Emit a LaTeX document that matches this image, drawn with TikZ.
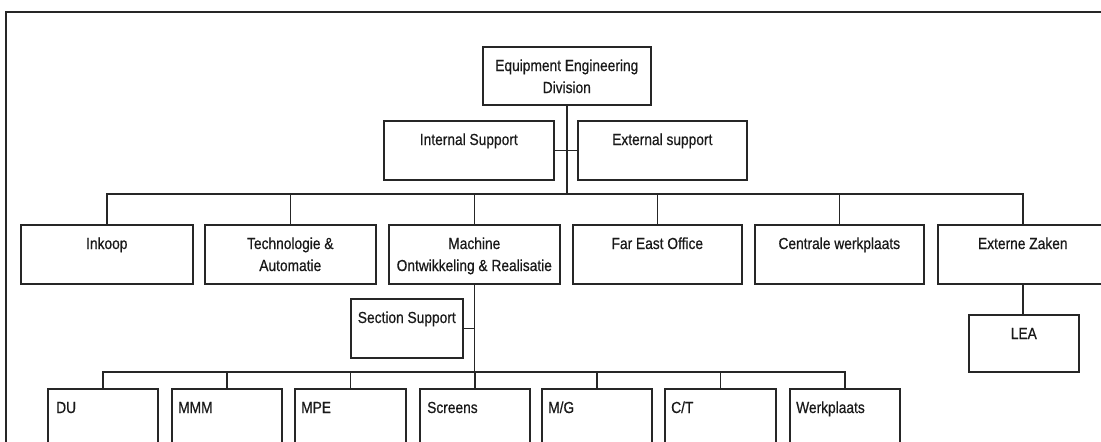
\documentclass[tikz,border=0pt]{standalone}
\usepackage{fontspec}
\setmainfont{Liberation Sans}[FakeStretch=0.86,FakeBold=0.6]
\begin{document}
\begin{tikzpicture}[x=1pt,y=-1pt,
  unit/.style={draw=black!85, line width=1.6pt, rectangle, inner sep=0pt,
    anchor=north west, minimum height=59pt},
  lbl/.style={inner sep=0pt, anchor=base, text=black!90,
    font=\fontsize{16}{21.5}\selectfont},
  lblw/.style={lbl, anchor=base west},
  wire/.style={draw=black!85, line width=1.6pt}]
\useasboundingbox (0,0) rectangle (1101,442);

% page frame
\draw[line width=2.2pt, black!85] (6,460) -- (6,12) -- (1120,12);

% division and staff units
\node[unit, minimum width=168pt, minimum height=58pt] (eed) at (482,46) {};
\node[unit, minimum width=170pt] (int) at (383,120) {};
\node[unit, minimum width=169pt] (ext) at (577,120) {};

% departments
\node[unit, minimum width=172pt] (ink)  at (20,224)  {};
\node[unit, minimum width=171pt] (tech) at (204,224) {};
\node[unit, minimum width=171pt] (mach) at (388,224) {};
\node[unit, minimum width=169pt] (far)  at (572,224) {};
\node[unit, minimum width=169pt] (cen)  at (754,224) {};
\node[unit, minimum width=170pt] (exz)  at (937,224) {};

% sub units
\node[unit, minimum width=112pt] (sec) at (350,298) {};
\node[unit, minimum width=110pt, minimum height=57pt] (lea) at (968,314) {};

% sections
\node[unit, minimum width=110pt] (du)  at (47,388)  {};
\node[unit, minimum width=110pt] (mmm) at (171,388) {};
\node[unit, minimum width=111pt] (mpe) at (294,388) {};
\node[unit, minimum width=110pt] (scr) at (419,388) {};
\node[unit, minimum width=110pt] (mg)  at (541,388) {};
\node[unit, minimum width=111pt] (ct)  at (664,388) {};
\node[unit, minimum width=110pt] (wp)  at (789,388) {};

% labels
\node[lbl] (teed1) at ([yshift=-25pt]eed.north) {Equipment Engineering};
\node[lbl] (teed2) at ([yshift=-47pt]eed.north) {Division};
\node[lbl] (tint) at ([yshift=-25pt]int.north) {Internal Support};
\node[lbl] (text) at ([yshift=-25pt]ext.north) {External support};
\node[lbl] (tink) at ([yshift=-25pt]ink.north) {Inkoop};
\node[lbl] (ttech1) at ([yshift=-25pt]tech.north) {Technologie \&};
\node[lbl] (ttech2) at ([yshift=-47pt]tech.north) {Automatie};
\node[lbl] (tmach1) at ([yshift=-25pt]mach.north) {Machine};
\node[lbl] (tmach2) at ([yshift=-47pt]mach.north) {Ontwikkeling \& Realisatie};
\node[lbl] (tfar) at ([yshift=-25pt]far.north) {Far East Office};
\node[lbl] (tcen) at ([yshift=-25pt]cen.north) {Centrale werkplaats};
\node[lbl] (texz) at ([yshift=-25pt]exz.north) {Externe Zaken};
\node[lbl] (tsec) at ([yshift=-25pt]sec.north) {Section Support};
\node[lbl] (tlea) at ([yshift=-25pt]lea.north) {LEA};
\node[lblw] (tdu)  at ([xshift=9pt,yshift=-25pt]du.north west)  {DU};
\node[lblw] (tmmm) at ([xshift=7pt,yshift=-25pt]mmm.north west) {MMM};
\node[lblw] (tmpe) at ([xshift=7pt,yshift=-25pt]mpe.north west) {MPE};
\node[lblw] (tscr) at ([xshift=8pt,yshift=-25pt]scr.north west) {Screens};
\node[lblw] (tmg)  at ([xshift=7pt,yshift=-25pt]mg.north west)  {M/G};
\node[lblw] (tct)  at ([xshift=7pt,yshift=-25pt]ct.north west)  {C/T};
\node[lblw] (twp)  at ([xshift=7pt,yshift=-25pt]wp.north west)  {Werkplaats};

% bus junctions
\coordinate (b1) at (eed.south |- 0,194);
\coordinate (b2) at (mach.south |- 0,372);

% connectors
\draw[wire] (eed.south) -- (b1);
\draw[wire] (int.east) -- (ext.west);
\draw[wire] (ink.north) |- (b1) -| (exz.north);
\draw[wire] (tech.north) -- (tech.north |- b1);
\draw[wire] (mach.north) -- (mach.north |- b1);
\draw[wire] (far.north) -- (far.north |- b1);
\draw[wire] (cen.north) -- (cen.north |- b1);

\draw[wire] (mach.south) -- (b2);
\draw[wire] (sec.east) -- (sec.east -| mach.south);
\draw[wire] (du.north) |- (b2) -| (wp.north);
\draw[wire] (mmm.north) -- (mmm.north |- b2);
\draw[wire] (mpe.north) -- (mpe.north |- b2);
\draw[wire] (scr.north) -- (scr.north |- b2);
\draw[wire] (mg.north) -- (mg.north |- b2);
\draw[wire] (ct.north) -- (ct.north |- b2);

\draw[wire] (exz.south) -- (exz.south |- lea.north);
\end{tikzpicture}
\end{document}
